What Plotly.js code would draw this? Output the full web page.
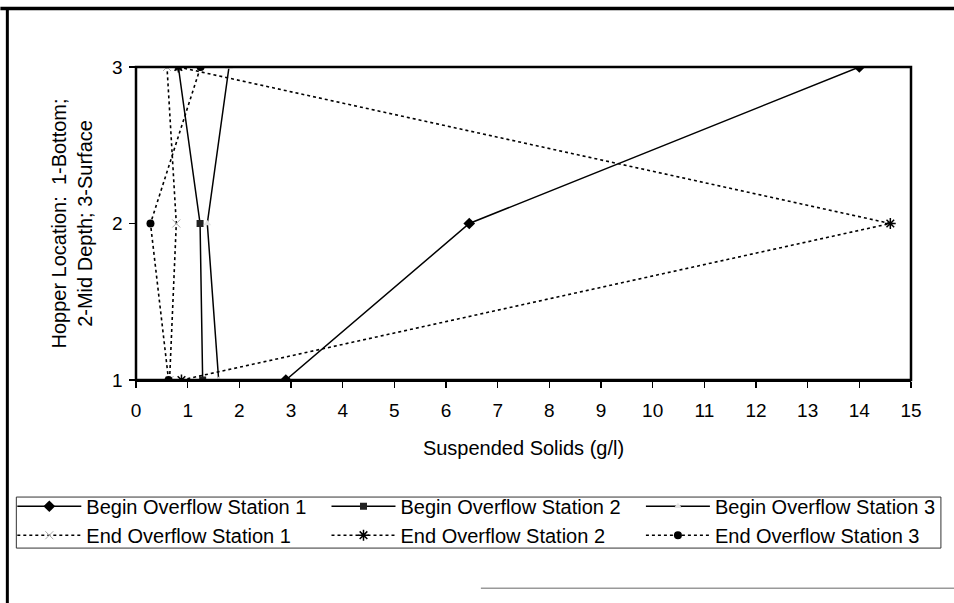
<!DOCTYPE html>
<html>
<head>
<meta charset="utf-8">
<script src="https://cdn.plot.ly/plotly-3.0.1.min.js"></script>
<style>
html,body{margin:0;padding:0;background:#fff;}
#chart{width:954px;height:603px;}
</style>
</head>
<body>
<div id="chart"></div>
<script>
// Hopper location (1-Bottom, 2-Mid Depth, 3-Surface)
const locations = [1, 2, 3];

// Suspended solids (g/l) for each series, in the order of locations
const beginStation1 = [2.9, 6.45, 14.0];
const beginStation2 = [1.29, 1.24, 0.82];
const beginStation3 = [1.6, 1.38, 1.8];
const endStation1   = [0.65, 0.78, 0.6];
const endStation2   = [0.88, 14.6, 0.82];
const endStation3   = [0.63, 0.28, 1.25];

const seriesNames = [
  'Begin Overflow Station 1', 'Begin Overflow Station 2', 'Begin Overflow Station 3',
  'End Overflow Station 1', 'End Overflow Station 2', 'End Overflow Station 3'
];

const xTicks = [0,1,2,3,4,5,6,7,8,9,10,11,12,13,14,15];
const yTicks = [1, 2, 3];

const FONT = 'Liberation Sans, Arial, sans-serif';
const solid = {color: '#000', width: 1.5};
const dotted = {color: '#000', width: 1.6, dash: '3px,3px'};

const traces = [
  {x: beginStation1, y: locations, name: seriesNames[0], mode: 'lines+markers', legend: 'legend',
   line: solid, marker: {symbol: 'diamond', size: 9, color: '#000'}},
  {x: beginStation2, y: locations, name: seriesNames[1], mode: 'lines+markers', legend: 'legend2',
   line: solid, marker: {symbol: 'square', size: 7, color: '#222'}},
  {x: beginStation3, y: locations, name: seriesNames[2], mode: 'lines+markers', legend: 'legend3',
   line: solid, marker: {symbol: 'triangle-up', size: 7, color: '#e6e6e6'}},
  {x: endStation1, y: locations, name: seriesNames[3], mode: 'lines+markers', legend: 'legend',
   line: dotted, marker: {symbol: 'x-thin-open', size: 8, color: '#aaa', line: {width: 1, color: '#aaa'}}},
  {x: endStation2, y: locations, name: seriesNames[4], mode: 'lines+markers', legend: 'legend2',
   line: dotted, marker: {symbol: 'asterisk-open', size: 9, color: '#000', line: {width: 1.5, color: '#000'}}},
  {x: endStation3, y: locations, name: seriesNames[5], mode: 'lines+markers', legend: 'legend3',
   line: dotted, marker: {symbol: 'circle', size: 8, color: '#000'}}
];

function legendAt(xp, anchor) {
  return {
    orientation: 'v', x: xp, xanchor: anchor, y: -0.341, yanchor: 'top',
    bgcolor: 'rgba(0,0,0,0)', borderwidth: 0,
    font: {family: FONT, size: 20, color: '#000'},
    itemwidth: 64, traceorder: 'normal', tracegroupgap: 0
  };
}

const layout = {
  width: 954, height: 603,
  margin: {l: 134, r: 43, t: 67, b: 223},
  paper_bgcolor: '#fff', plot_bgcolor: '#fff',
  font: {family: FONT, color: '#000', size: 19},
  showlegend: true,
  xaxis: {
    range: [0, 15], tickvals: xTicks, ticktext: xTicks.map(String),
    showgrid: false, zeroline: false,
    showline: true, linecolor: '#000', linewidth: 1.5,
    ticks: 'outside', ticklen: 6, tickwidth: 1.2, tickcolor: '#000',
    ticklabelstandoff: 7,
    tickfont: {family: FONT, size: 19, color: '#000'},
    title: {text: 'Suspended Solids (g/l)', font: {family: FONT, size: 20, color: '#000'}, standoff: 20},
    automargin: false, fixedrange: true
  },
  yaxis: {
    range: [1, 3], tickvals: yTicks, ticktext: yTicks.map(String),
    showgrid: false, zeroline: false,
    showline: true, linecolor: '#000', linewidth: 1.5,
    ticks: 'outside', ticklen: 6, tickwidth: 1.2, tickcolor: '#000',
    ticklabelstandoff: 2,
    tickfont: {family: FONT, size: 19, color: '#000'},
    title: {text: 'Hopper Location:  1-Bottom;<br>2-Mid Depth; 3-Surface', font: {family: FONT, size: 20, color: '#000'}, standoff: 14},
    automargin: false, fixedrange: true
  },
  legend: legendAt(-0.1596, 'left'),
  legend2: legendAt(0.2458, 'left'),
  legend3: legendAt(1.0386, 'right'),
  shapes: [
    // plot frame
    {type: 'rect', xref: 'paper', yref: 'paper', x0: 0, x1: 1, y0: 0, y1: 1,
     line: {color: '#000', width: 2.5}, fillcolor: 'rgba(0,0,0,0)'},
    // legend box
    {type: 'rect', xref: 'paper', yref: 'paper', x0: -0.1544, x1: 1.0386, y0: -0.374, y1: -0.537,
     line: {color: '#333', width: 1}, fillcolor: 'rgba(0,0,0,0)', layer: 'below'},
    // outer chart border: top and left
    {type: 'line', xref: 'paper', yref: 'paper', x0: -0.175, x1: 1.06, y0: 1.187, y1: 1.187,
     line: {color: '#000', width: 3.5}},
    {type: 'line', xref: 'paper', yref: 'paper', x0: -0.166, x1: -0.166, y0: 1.19, y1: -0.72,
     line: {color: '#000', width: 3}},
    // faint bottom edge
    {type: 'line', xref: 'paper', yref: 'paper', x0: 0.445, x1: 1.06, y0: -0.665, y1: -0.665,
     line: {color: '#999', width: 1.5}}
  ]
};

Plotly.newPlot('chart', traces, layout, {displayModeBar: false, staticPlot: true});
</script>
</body>
</html>
